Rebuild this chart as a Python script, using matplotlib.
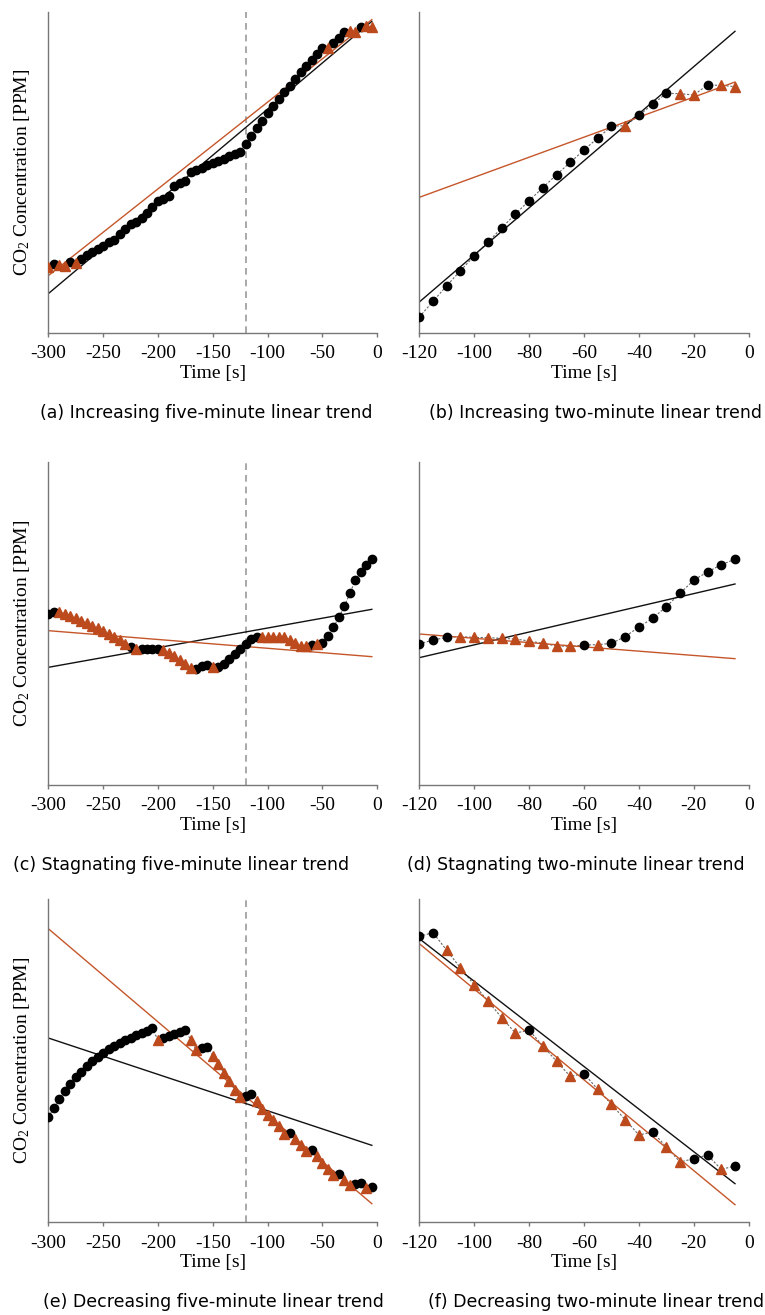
import numpy as np
import matplotlib.pyplot as plt

plt.rcParams['font.family'] = 'Liberation Serif'
plt.rcParams['mathtext.default'] = 'regular'
plt.rcParams['axes.unicode_minus'] = False

# sample times [s], one reading every 5 s
t5 = np.arange(-300, 0, 5)
t2 = np.arange(-120, 0, 5)

# relative CO2 readings per window; 'o' = kept reading, '^' = flagged reading
a_vals = [197, 207, 203, 202, 212, 210, 222, 233, 243, 252, 260, 272, 279, 296, 312,
          328, 334, 345, 360, 378, 397, 403, 412, 440, 449, 457, 482, 489, 495, 503,
          510, 516, 523, 530, 537, 543, 568, 592, 616, 637, 660, 680, 703, 722, 742,
          762, 782, 800, 819, 837, 854, 855, 870, 886, 903, 906, 904, 919, 920, 918]
a_mark = "^o^^o^" + "ooooooooooooooooooooooooooooooooooooooooooooo" + "^ooo^^o^^"
a_fit_all = [118, 935]
a_fit_tri = [172, 940]

b_vals = [48, 95, 142, 187, 231, 273, 315, 357, 397, 436, 475, 512, 549, 585, 620,
          622, 653, 686, 719, 718, 714, 744, 743, 739]
b_mark = "ooooooooooooooo" + "^ooo^^o^^"
b_fit_all = [93, 905]
b_fit_tri = [407, 753]

c_vals = [513, 520, 520, 513, 507, 501, 493, 485, 478, 470, 461, 452, 445, 435, 423,
          415, 409, 408, 408, 408, 408, 405, 397, 387, 375, 363, 352, 348, 357, 361,
          355, 355, 364, 379, 394, 408, 422, 437, 444, 445, 445, 445, 445, 444, 436,
          427, 418, 417, 421, 422, 425, 447, 474, 503, 536, 575, 615, 640, 661, 677]
c_mark = "oo" + "^^^^^^^^^^^^^" + "o^oooo" + "^^^^^^" + "ooo^" + "oooooooo" + "^^^^^^^^^" + "o^" + "oooooooooo"
c_fit_all = [353, 527]
c_fit_tri = [463, 385]

d_vals = [423, 435, 443, 445, 443, 442, 440, 438, 432, 425, 417, 416, 420, 421,
          425, 445, 474, 500, 535, 575, 615, 639, 661, 677]
d_mark = "ooo" + "^^^^^^^^^" + "o^" + "oooooooooo"
d_fit_all = [382, 603]
d_fit_tri = [453, 379]

e_vals = [315, 342, 368, 393, 414, 434, 451, 468, 482, 495, 507, 518, 528, 537, 545,
          553, 560, 567, 574, 582, 545, 553, 559, 565, 570, 576, 545, 515, 521, 525,
          499, 475, 448, 422, 397, 375, 378, 383, 362, 340, 322, 305, 287, 265, 267,
          250, 230, 212, 215, 197, 178, 160, 142, 145, 127, 110, 113, 117, 103, 105]
e_mark = "oooooooooooooooooooo" + "^ooooo^^oo" + "^^^^^^oo" + "^^^^^^o" + "^^^o" + "^^^^o" + "^^oo^o"
e_fit_all = [552, 230]
e_fit_tri = [880, 55]

f_vals = [857, 868, 815, 762, 712, 663, 613, 567, 575, 529, 482, 437, 445, 398,
          353, 307, 261, 270, 225, 180, 190, 201, 158, 168]
f_mark = "oo^^^^^^o^^^o^^^^o^^oo^o"
f_fit_all = [850, 115]
f_fit_tri = [835, 52]

captions = ["(a) Increasing five-minute linear trend",
            "(b) Increasing two-minute linear trend",
            "(c) Stagnating five-minute linear trend",
            "(d) Stagnating two-minute linear trend",
            "(e) Decreasing five-minute linear trend",
            "(f) Decreasing two-minute linear trend"]

BROWN = '#BC4A1C'
BROWN_LINE = '#C5562A'
SPINE = '#777777'

W, H = 765, 1315
fig = plt.figure(figsize=(W / 100, H / 100), dpi=100)


def px_axes(left, right, top, bottom):
    return fig.add_axes([left / W, 1 - bottom / H, (right - left) / W, (bottom - top) / H])


def draw(ax, t, vals, marks, fit_all, fit_tri, ylim, five_min, ylabel):
    vals = np.asarray(vals)
    is_tri = np.array([m == '^' for m in marks])
    ax.plot(t, vals, color='#666666', lw=0.8, ls=(0, (2, 1.5)), zorder=1)
    ends = [t[0], t[-1]]
    ax.plot(ends, fit_all, color='#111111', lw=1.0, zorder=2)
    ax.plot(ends, fit_tri, color=BROWN_LINE, lw=1.0, zorder=2)
    ax.plot(t[~is_tri], vals[~is_tri], 'o', color='black', ms=6, zorder=3)
    ax.plot(t[is_tri], vals[is_tri], '^', color=BROWN, ms=6.5, zorder=3)
    if five_min:
        ax.axvline(-120, color='#999999', lw=1.2, ls=(0, (4, 3)), zorder=0)
        ax.set_xlim(-300, 0)
        ax.set_xticks(range(-300, 1, 50))
    else:
        ax.set_xlim(-120, 0)
        ax.set_xticks(range(-120, 1, 20))
    ax.set_ylim(0, ylim)
    ax.set_yticks([])
    for s in ['top', 'right']:
        ax.spines[s].set_visible(False)
    for s in ['left', 'bottom']:
        ax.spines[s].set_color(SPINE)
        ax.spines[s].set_linewidth(1.0)
    ax.tick_params(axis='x', length=3, width=1, color=SPINE, labelsize=14, pad=6)
    ax.set_xlabel('Time [s]', fontsize=14, labelpad=2)
    if ylabel:
        ax.set_ylabel('CO$_2$ Concentration [PPM]', fontsize=14, labelpad=12)


rows = [(12, 333), (462, 785), (899, 1222)]
left_cols = (48.3, 377.3)
right_cols = (419.3, 748.7)

panels = [
    (t5, a_vals, a_mark, a_fit_all, a_fit_tri, True),
    (t2, b_vals, b_mark, b_fit_all, b_fit_tri, False),
    (t5, c_vals, c_mark, c_fit_all, c_fit_tri, True),
    (t2, d_vals, d_mark, d_fit_all, d_fit_tri, False),
    (t5, e_vals, e_mark, e_fit_all, e_fit_tri, True),
    (t2, f_vals, f_mark, f_fit_all, f_fit_tri, False),
]

cap_x = [40, 429, 13, 407, 43, 428]

for i, (t, vals, marks, fa, ft, five) in enumerate(panels):
    top, bottom = rows[i // 2]
    lo, hi = left_cols if five else right_cols
    ax = px_axes(lo, hi, top, bottom)
    draw(ax, t, vals, marks, fa, ft, (bottom - top) * 3, five, five)
    fig.text(cap_x[i] / W, 1 - (bottom + 80) / H, captions[i], ha='left', va='center',
             fontsize=12.5, family='DejaVu Sans')

fig.savefig('out.png', dpi=100)
